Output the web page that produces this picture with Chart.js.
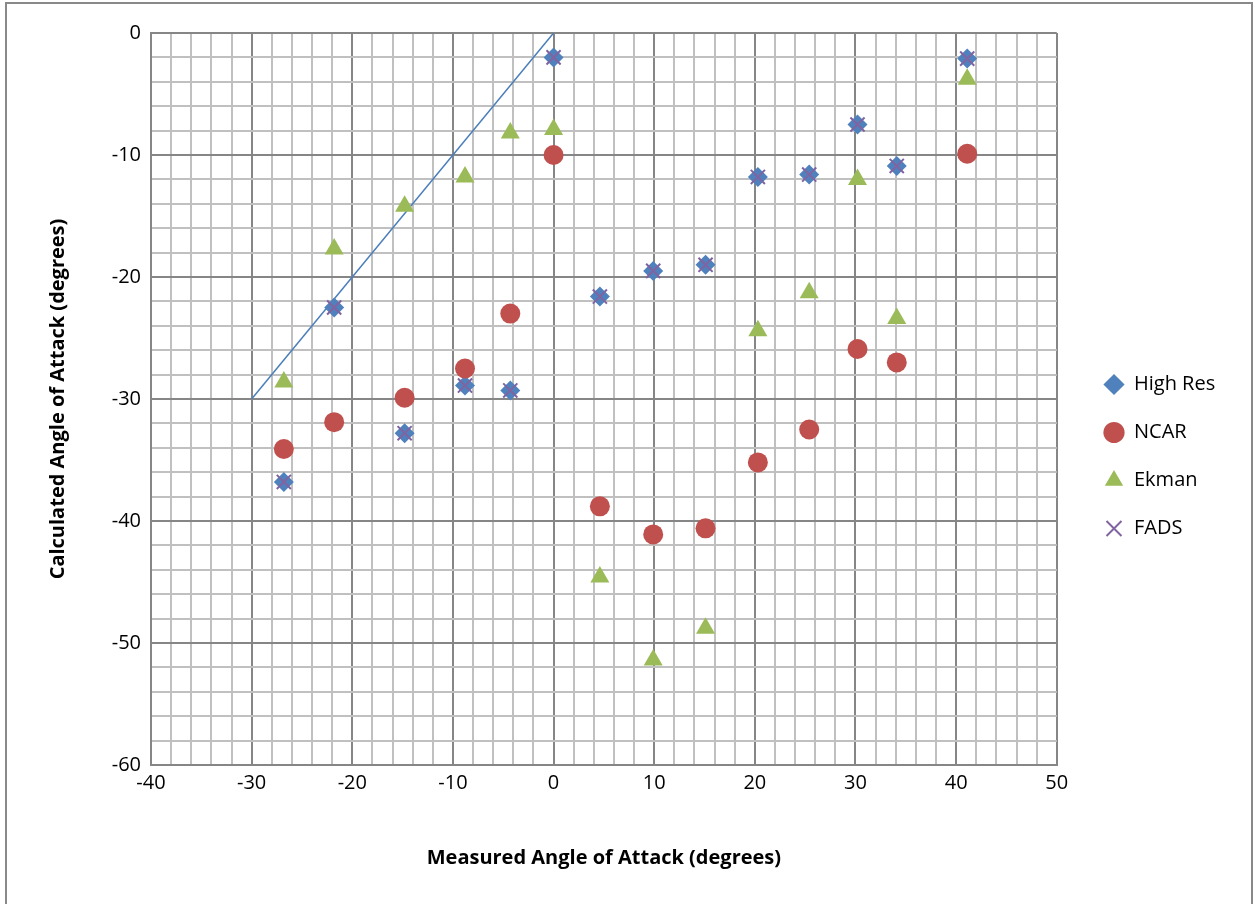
<!DOCTYPE html>
<html>
<head>
<meta charset="utf-8">
<script src="https://cdn.jsdelivr.net/npm/chart.js@4.4.1/dist/chart.umd.min.js"></script>
<style>
  html, body { margin: 0; padding: 0; background: #fff; overflow: hidden; }
  #wrap { position: relative; width: 1255px; height: 904px; }
  #frame { position: absolute; left: 5px; top: 2px; width: 1248px; height: 940px; border: 2px solid #898989; box-sizing: border-box; pointer-events: none; }
  canvas { position: absolute; left: 0; top: 0; }
</style>
</head>
<body>
<div id="wrap">
  <canvas id="chart" width="1255" height="904"></canvas>
  <div id="frame"></div>
</div>
<script>
// measured angle of attack (x) for every series
const measured = [-26.8, -21.8, -14.8, -8.8, -4.3, 0, 4.6, 9.9, 15.1, 20.3, 25.4, 30.2, 34.1, 41.1];

const highRes = [-36.8, -22.5, -32.8, -28.9, -29.3, -2.0, -21.6, -19.5, -19.0, -11.8, -11.6, -7.5, -10.9, -2.1];
const ncar    = [-34.1, -31.9, -29.9, -27.5, -23.0, -10.0, -38.8, -41.1, -40.6, -35.2, -32.5, -25.9, -27.0, -9.9];
const ekman   = [-28.6, -17.7, -14.2, -11.8, -8.2, -7.9, -44.6, -51.4, -48.8, -24.4, -21.3, -12.0, -23.4, -3.8];
const fads    = [-36.8, -22.5, -32.8, -28.9, -29.3, -2.0, -21.6, -19.5, -19.0, -11.8, -11.6, -7.5, -10.9, -2.1];

// reference line y = x
const refX = [-30, 0];
const refY = [-30, 0];

const xMin = -40, xMax = 50;
const yMin = -60, yMax = 0;

function pts(xs, ys) {
  return xs.map((x, i) => ({ x: x, y: ys[i] }));
}

const FONT = "'Open Sans', sans-serif";

function gridCol(ctx) {
  return ctx.tick && ctx.tick.value % 10 === 0 ? '#868686' : '#c0c0c0';
}

// nudge the legend box to where the original sits
const legendShift = {
  id: 'legendShift',
  afterLayout(chart) {
    const lg = chart.legend;
    const dx = 1104 - 28 - lg.left;
    const dy = -12;
    lg.left += dx; lg.right += dx;
    lg.top += dy; lg.bottom += dy;
  }
};

new Chart(document.getElementById('chart'), {
  type: 'scatter',
  data: {
    datasets: [
      {
        label: 'High Res', data: pts(measured, highRes), order: 3,
        pointStyle: 'rectRot', radius: 10, hoverRadius: 10,
        backgroundColor: '#4f81bd', borderColor: '#4f81bd', borderWidth: 0
      },
      {
        label: 'NCAR', data: pts(measured, ncar), order: 2,
        pointStyle: 'circle', radius: 10, hoverRadius: 10,
        backgroundColor: '#c0504d', borderColor: '#c0504d', borderWidth: 0
      },
      {
        label: 'Ekman', data: pts(measured, ekman), order: 1,
        pointStyle: 'triangle', radius: 11, hoverRadius: 11,
        backgroundColor: '#9bbb59', borderColor: '#9bbb59', borderWidth: 0
      },
      {
        label: 'FADS', data: pts(measured, fads), order: 0,
        pointStyle: 'crossRot', radius: 10, hoverRadius: 10,
        backgroundColor: '#8064a2', borderColor: '#8064a2', borderWidth: 2
      },
      {
        label: 'line', data: pts(refX, refY), order: 5,
        showLine: true, pointRadius: 0, borderColor: '#4a7ebb', borderWidth: 1.5
      }
    ]
  },
  options: {
    responsive: false,
    animation: false,
    layout: { padding: { top: 33, right: 49, left: 0, bottom: 0 } },
    plugins: {
      tooltip: { enabled: false },
      legend: {
        position: 'right',
        labels: {
          usePointStyle: true,
          boxHeight: 15,
          padding: 28,
          color: '#000',
          font: { family: FONT, size: 20 },
          filter: (item) => item.text !== 'line',
          sort: (a, b) => a.datasetIndex - b.datasetIndex
        }
      }
    },
    scales: {
      x: {
        type: 'linear', min: xMin, max: xMax,
        ticks: {
          stepSize: 2, autoSkip: false, maxRotation: 0, padding: 6,
          color: '#000', font: { family: FONT, size: 20 },
          callback: (v) => (v % 10 === 0 ? String(v) : '')
        },
        grid: { color: gridCol, lineWidth: 2, drawTicks: false },
        border: { color: '#868686', width: 2 },
        title: {
          display: true, text: 'Measured Angle of Attack (degrees)',
          color: '#000', font: { family: FONT, size: 20, weight: 'bold' },
          padding: { top: 0, bottom: 34 }
        },
        afterFit: (s) => { s.height = 139; }
      },
      y: {
        type: 'linear', min: yMin, max: yMax,
        ticks: {
          stepSize: 2, autoSkip: false, padding: 10,
          color: '#000', font: { family: FONT, size: 20 },
          callback: (v) => (v % 10 === 0 ? String(v) : '')
        },
        grid: { color: gridCol, lineWidth: 2, drawTicks: false },
        border: { color: '#868686', width: 2 },
        title: {
          display: true, text: 'Calculated Angle of Attack (degrees)',
          color: '#000', font: { family: FONT, size: 20, weight: 'bold' },
          padding: { top: 46, bottom: 0 }
        },
        afterFit: (s) => { s.width = 151; }
      }
    }
  },
  plugins: [legendShift]
});
</script>
</body>
</html>
